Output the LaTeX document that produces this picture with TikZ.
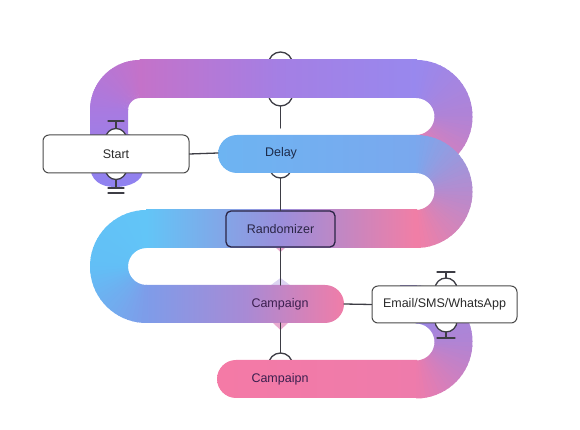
\documentclass[tikz,border=0pt]{standalone}
\usepackage{fontspec}
\setmainfont{Liberation Sans}
\definecolor{lineC}{HTML}{3D3D45}
\definecolor{boxC}{HTML}{4A4A4A}
\definecolor{txtC}{HTML}{2B2B2B}
\definecolor{delayT}{HTML}{1D2B4A}
\definecolor{randT}{HTML}{2A2545}
\definecolor{campT}{HTML}{3B1F4F}
% ribbon A
\definecolor{Aorch}{HTML}{C472C9}
\definecolor{Aleft}{HTML}{A97AE0}
\definecolor{Abot}{HTML}{8E82F1}
\definecolor{Amid}{HTML}{A47FE4}
\definecolor{Apurp}{HTML}{9888EE}
\definecolor{Aright}{HTML}{B083D6}
\definecolor{Apink}{HTML}{EA7EB0}
\colorlet{Acorner}{Aorch!50!Aleft}
% ribbon B
\definecolor{Bblue}{HTML}{6DB4F2}
\definecolor{Bblue2}{HTML}{7AA8EE}
\definecolor{Bmid}{HTML}{B58BCF}
\definecolor{Bpink}{HTML}{F27EA5}
\definecolor{Bcyan}{HTML}{62C5F7}
\definecolor{Bcyan2}{HTML}{62BFF6}
\definecolor{Bpurp}{HTML}{9B8EDB}
\definecolor{Bblue3}{HTML}{7E9CE9}
\definecolor{Bcamp}{HTML}{A88AD5}
\definecolor{Bpink2}{HTML}{F07DA8}
% ribbon C
\definecolor{Cpink0}{HTML}{F47AA6}
\definecolor{Cpink}{HTML}{EE7BAB}
\definecolor{Cmid}{HTML}{B084D4}
\definecolor{Cpurp}{HTML}{9688EC}
\definecolor{lavC}{HTML}{DCD4F2}
\definecolor{bumpP}{HTML}{E9AACF}
% loop with a gradient along its length: cx, cy, a0, a1, rin, rout, c0, c1, c2
\newcommand{\loopgrad}[9]{%
  \foreach \lgI in {0,...,35} {%
    \pgfmathsetmacro\lgT{(\lgI+0.5)/36}%
    \pgfmathsetmacro\lgA{#3+(#4-#3)*\lgI/36}%
    \pgfmathsetmacro\lgB{#3+(#4-#3)*(\lgI+1)/36 + ((#4-#3)>0 ? 1.5 : -1.5)}%
    \pgfmathsetmacro\lgP{\lgT<0.5 ? 200*\lgT : 200*\lgT-100}%
    \ifdim\lgT pt<0.5pt \colorlet{lgcol}{#8!\lgP!#7}\else\colorlet{lgcol}{#9!\lgP!#8}\fi
    \fill[lgcol, shift={(#1,#2)}] (\lgA:#5) arc[start angle=\lgA, end angle=\lgB, radius=#5]
      -- (\lgB:#6) arc[start angle=\lgB, end angle=\lgA, radius=#6] -- cycle;
  }%
}
\begin{document}
\begin{tikzpicture}[x=1pt,y=1pt, line cap=round,
  conn/.style={draw=lineC, line width=1.3pt},
  bump/.style={draw=lineC, line width=1.3pt, fill=white},
  whitebox/.style={draw=boxC, line width=1pt, fill=white, rounded corners=6pt,
    minimum width=146pt, minimum height=38pt, font=\fontsize{12.5}{15}\selectfont,
    text=txtC, inner sep=0pt},
  bandtext/.style={font=\fontsize{12.5}{15}\selectfont, inner sep=0pt}]
\useasboundingbox (0,0) rectangle (580,430);

% bumps behind the bands
\draw[bump] (280.5,366) circle[radius=12];
\draw[bump] (280.5,336) circle[radius=12];
\draw[bump] (280.5,263) circle[radius=11];
\draw[bump] (280.5,65) circle[radius=12];
\fill[lavC] (271,145) -- (280.5,152) -- (290,145) -- cycle;
\fill[bumpP] (273,107) -- (280.5,100) -- (288,107) -- cycle;
\fill[bumpP] (275,183) -- (280.5,178) -- (286,183) -- cycle;

% ribbon A (top)
\shade[left color=Aorch, right color=Apurp, middle color=Amid]
  (139.5,332) rectangle (417,370);
\shade[top color=Aleft, bottom color=Abot]
  (90,321) -- (90,265) .. controls (90,250) and (100,243) .. (115,243)
  .. controls (130,243) and (143,249) .. (143,260) -- (143,290)
  -- (128,296) -- (128,321) -- cycle;
\loopgrad{140}{320}{90}{180}{12}{50}{Aorch}{Acorner}{Aleft}
\loopgrad{416}{313.5}{90}{-90}{18.5}{56.5}{Apurp}{Aright}{Apink}

% ribbon B (Delay / Randomizer / Campaign)
\shade[left color=Bblue, right color=Bblue2]
  (417,257) -- (237,257) arc[start angle=270, end angle=90, radius=19]
  -- (417,295) -- cycle;
\shade[left color=Bcyan, right color=Bpink, middle color=Bpurp]
  (146,182) rectangle (417,220);
\shade[left color=Bblue3, right color=Bpink2, middle color=Bcamp]
  (146,107) -- (325,107) arc[start angle=-90, end angle=90, radius=19]
  -- (146,145) -- cycle;
\loopgrad{416}{238.5}{90}{-90}{18.5}{56.5}{Bblue2}{Bmid}{Bpink}
\loopgrad{146.5}{163.5}{90}{270}{18.5}{56.5}{Bcyan}{Bcyan2}{Bblue3}

% ribbon C (bottom)
\shade[left color=Cpink0, right color=Cpink]
  (417,32) -- (236,32) arc[start angle=270, end angle=90, radius=19]
  -- (417,70) -- cycle;
\fill[Cpurp] (400,106.5) rectangle (417,144.5);
\loopgrad{416}{88}{-90}{90}{18.5}{56.5}{Cpink}{Cmid}{Cpurp}

% T connectors of Start
\draw[bump] (116,291) circle[radius=10.5];
\draw[conn] (116,301.5) -- (116,309);
\draw[conn] (108,309) -- (124,309);
\draw[bump] (116,261) circle[radius=10.5];
\draw[conn] (116,250.5) -- (116,242);
\draw[conn] (108,242) -- (124,242);
\draw[conn] (108,237) -- (124,237);

% T connectors of Email
\draw[bump] (446,141) circle[radius=11];
\draw[conn] (446,152) -- (446,158);
\draw[conn] (437,158) -- (455,158);
\draw[bump] (446,109) circle[radius=11];
\draw[conn] (446,98) -- (446,92);
\draw[conn] (437,92) -- (455,92);

% nodes
\node[whitebox] (start) at (116,276) {Start};
\node[whitebox, minimum width=145pt, minimum height=37pt] (email) at (444.5,125.5) {Email/SMS/WhatsApp};
\node[bandtext, text=delayT] (delay) at (281,277) {Delay};
\node[bandtext, text=randT, draw=randT, line width=1.3pt, rounded corners=5pt,
  minimum width=109pt, minimum height=36pt] (rand) at (280.5,201) {Randomizer};
\node[bandtext, text=campT] (camp) at (280,126) {Campaign};
\node[bandtext, text=campT] (campn) at (280,51) {Campaipn};

\coordinate (delayL) at (218,277);
\coordinate (campR) at (344,126);
\coordinate (topBot) at (280.5,324);
\coordinate (gapEnd) at (280.5,302);
\coordinate (delayBot) at (280.5,252);
\coordinate (campTop) at (280.5,145);
\coordinate (campBot) at (280.5,107);
\coordinate (campnTop) at (280.5,77);

% connectors
\draw[conn] (start.east) -- (delayL);
\draw[conn] (campR) -- (email.west);
\draw[conn] (topBot) -- (gapEnd);
\draw[conn] (delayBot) -- (rand.north);
\draw[conn] (rand.south) -- (campTop);
\draw[conn] (campBot) -- (campnTop);
\end{tikzpicture}
\end{document}
